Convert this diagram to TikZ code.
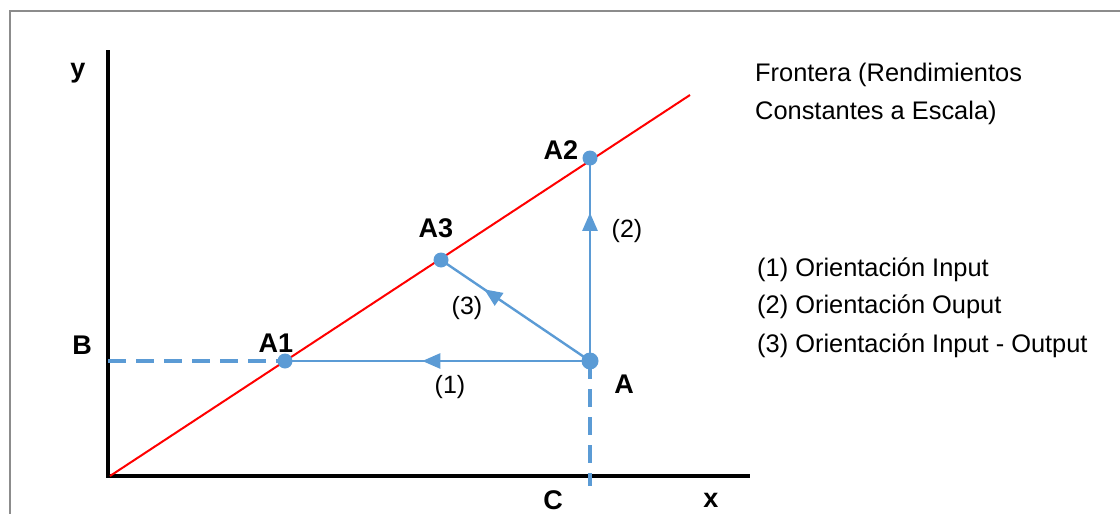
\documentclass[tikz,border=0pt]{standalone}
\usepackage{fontspec}
\setmainfont{Liberation Sans}
\usetikzlibrary{arrows.meta,decorations.markings}
\definecolor{bl}{HTML}{5B9BD5}
\begin{document}
\begin{tikzpicture}[x=1pt,y=-1pt,
  lbl/.style={font=\fontsize{27}{30}\selectfont\bfseries, inner sep=0pt},
  txt/.style={font=\fontsize{25.4}{30}\selectfont, inner sep=0pt, anchor=west},
  num/.style={font=\fontsize{25}{30}\selectfont, inner sep=0pt},
  pt/.style={circle, fill=bl, inner sep=0pt, minimum size=15pt},
  axis/.style={line width=4pt, black},
  flow/.style={bl, line width=2.4pt, postaction={decorate}},
  dsh/.style={bl, line width=4pt, dash pattern=on 18pt off 10pt},
  tipat/.style={decoration={markings, mark=at position #1 with {\arrow{Triangle[length=18pt,width=15pt]}}}}
]
\useasboundingbox (0,0) rectangle (1120,514);
\draw[gray!90, line width=2pt] (10,515) -- (10,11) -- (1121,11);
% axes
\coordinate (O) at (108,476);
\coordinate (ytop) at (108,50);
\coordinate (xend) at (750,476);
\draw[axis] (ytop) -- (O) -- (xend);
% frontier
\coordinate (Ostart) at (110,476);
\coordinate (fend) at (690,95);
\draw[red, line width=2pt] (Ostart) -- (fend);
% points
\node[pt] (A1) at (285,361) {};
\node[pt] (A3) at (441,260) {};
\node[pt] (A2) at (590,158) {};
\node[pt, minimum size=17pt] (A) at (590,361) {};
% dashed guides
\coordinate (Bpt) at (108,361);
\coordinate (Cpt) at (590,486);
\draw[dsh] (Bpt) -- (A1.center);
\draw[dsh] (A.center) -- (Cpt);
% flows
\draw[flow, tipat=0.55] (A.center) -- (A1.center);
\draw[flow, tipat=0.73] (A.center) -- (A2.center);
\draw[flow, tipat=0.71] (A.center) -- (A3.center);
% labels
\node[lbl] (ly) at (78,73) {y};
\node[lbl] (lB) at (82,345) {B};
\node[lbl] (lA1) at (276,343) {A1};
\node[lbl] (lA3) at (436,228) {A3};
\node[lbl] (lA2) at (561,150) {A2};
\node[lbl] (lA) at (624,384) {A};
\node[lbl] (lC) at (553,500) {C};
\node[lbl] (lx) at (711,500) {x};
\node[num] (n1) at (450,387) {(1)};
\node[num] (n2) at (627,231) {(2)};
\node[num] (n3) at (467,308) {(3)};
% texts
\node[txt] (f1) at (755,75) {Frontera (Rendimientos};
\node[txt] (f2) at (755,113) {Constantes a Escala)};
\node[txt] (g1) at (757,270) {(1) Orientación Input};
\node[txt] (g2) at (757,307) {(2) Orientación Ouput};
\node[txt] (g3) at (757,346) {(3) Orientación Input - Output};
\end{tikzpicture}
\end{document}
